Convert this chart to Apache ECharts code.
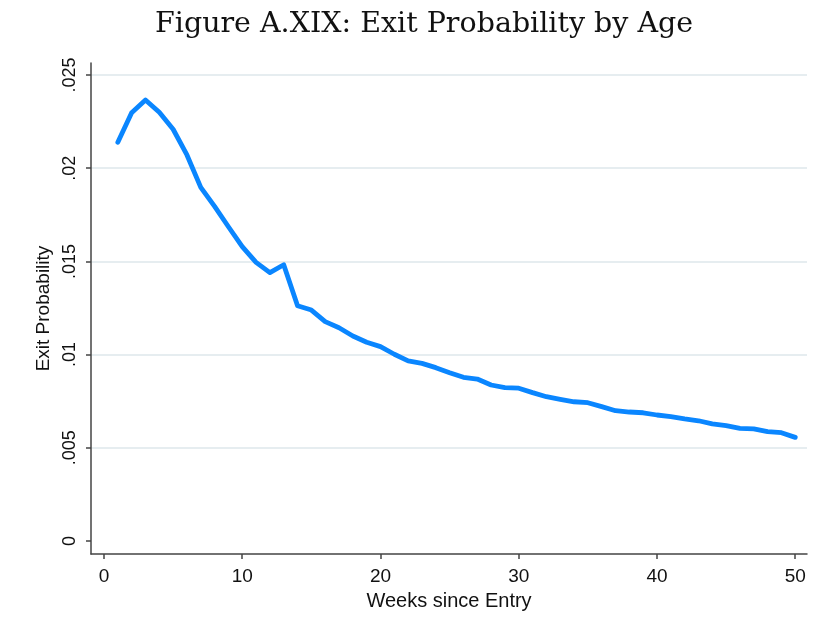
<!DOCTYPE html>
<html>
<head>
<meta charset="utf-8">
<script src="https://cdn.jsdelivr.net/npm/echarts@6/dist/echarts.min.js"></script>
<style>
html,body{margin:0;padding:0;background:#fff;}
#chart{width:813px;height:629px;}
</style>
</head>
<body>
<div id="chart"></div>
<script>
var weeks = [1,2,3,4,5,6,7,8,9,10,11,12,13,14,15,16,17,18,19,20,21,22,23,24,25,26,27,28,29,30,31,32,33,34,35,36,37,38,39,40,41,42,43,44,45,46,47,48,49,50];
var exitProb = [0.02139,0.02298,0.02366,0.02300,0.02209,0.02071,0.01897,0.01795,0.01686,0.01579,
  0.01495,0.01440,0.01482,0.01262,0.01239,0.01177,0.01144,0.01100,0.01066,0.01043,
  0.01002,0.00966,0.00953,0.00930,0.00903,0.00878,0.00869,0.00837,0.00823,0.00820,
  0.00796,0.00774,0.00760,0.00747,0.00742,0.00721,0.00699,0.00692,0.00688,0.00676,
  0.00667,0.00655,0.00645,0.00628,0.00619,0.00604,0.00602,0.00587,0.00581,0.00556];
var yTicks = [0, 0.005, 0.01, 0.015, 0.02, 0.025];
var yTickLabels = ['0', '.005', '.01', '.015', '.02', '.025'];
var xTicks = [0, 10, 20, 30, 40, 50];
var titleText = 'Figure A.XIX: Exit Probability by Age';
var xName = 'Weeks since Entry';
var yName = 'Exit Probability';

var chart = echarts.init(document.getElementById('chart'), null, {renderer: 'canvas'});
var axisFont = 'Liberation Sans';
chart.setOption({
  animation: false,
  backgroundColor: '#ffffff',
  title: {
    text: titleText,
    left: 150,
    top: 5,
    textStyle: {fontFamily: 'DejaVu Serif', fontWeight: 'normal', fontSize: 28.5, color: '#111'}
  },
  grid: {left: 91, right: 6, top: 63, bottom: 75, containLabel: false},
  xAxis: {
    type: 'value',
    min: -0.94,
    max: 50.85,
    name: xName,
    nameLocation: 'middle',
    nameGap: 37,
    nameTextStyle: {fontFamily: axisFont, fontSize: 20, color: '#111'},
    axisLine: {show: true, onZero: false, lineStyle: {color: '#444', width: 1.5}},
    axisTick: {show: true, length: 5, customValues: xTicks, lineStyle: {color: '#444', width: 1.5}},
    axisLabel: {customValues: xTicks, margin: 13, fontFamily: axisFont, fontSize: 19, color: '#111'},
    splitLine: {show: false}
  },
  yAxis: {
    type: 'value',
    min: -0.000697,
    max: 0.025644,
    name: yName,
    nameLocation: 'middle',
    nameGap: 35,
    nameRotate: 90,
    nameTextStyle: {fontFamily: axisFont, fontSize: 19, color: '#111'},
    axisLine: {show: true, onZero: false, lineStyle: {color: '#444', width: 1.5}},
    axisTick: {show: true, length: 5, customValues: yTicks, lineStyle: {color: '#444', width: 1.5}},
    axisLabel: {
      customValues: yTicks,
      rotate: 90,
      margin: 12,
      fontFamily: axisFont, fontSize: 18, color: '#111',
      formatter: function (v) {
        for (var i = 0; i < yTicks.length; i++) {
          if (Math.abs(yTicks[i] - v) < 1e-9) return yTickLabels[i];
        }
        return '';
      }
    },
    splitLine: {show: true, showMinLine: false, showMaxLine: true, lineStyle: {color: '#e6edf0', width: 2}}
  },
  series: [{
    type: 'line',
    data: weeks.map(function (w, i) { return [w, exitProb[i]]; }),
    showSymbol: false,
    symbol: 'none',
    lineStyle: {color: '#0a86ff', width: 4.8, cap: 'round', join: 'round'},
    z: 3
  }]
});
</script>
</body>
</html>
